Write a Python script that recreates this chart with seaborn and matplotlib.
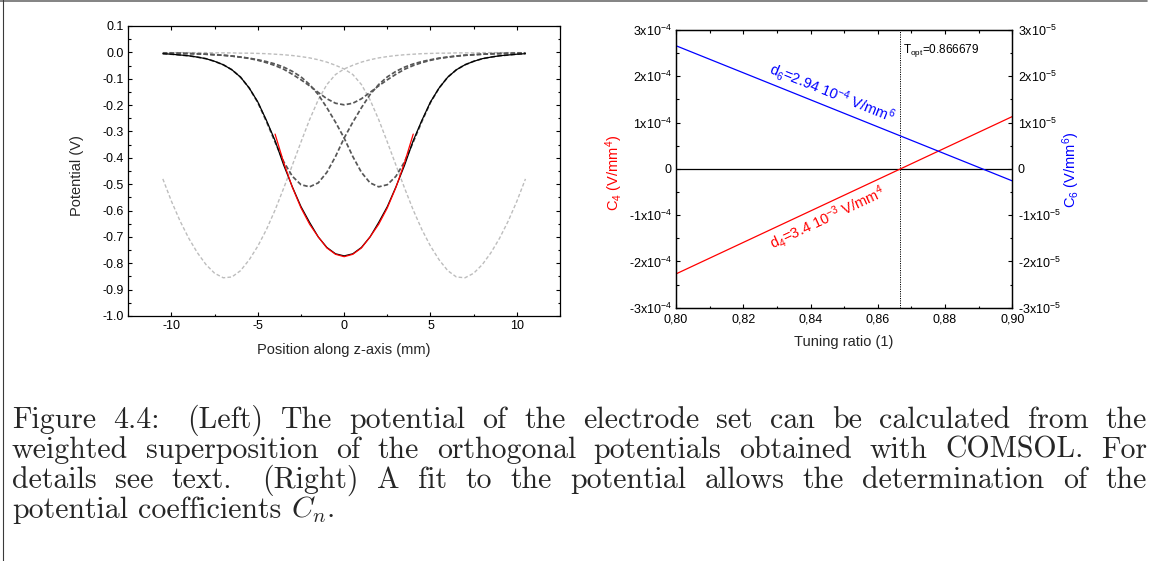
import numpy as np
import pandas as pd
import matplotlib
matplotlib.use("Agg")
import matplotlib.pyplot as plt
import seaborn as sns
from matplotlib.ticker import MultipleLocator, FuncFormatter
from matplotlib.lines import Line2D

# ---------------- data ----------------
Z = [-10.5, -10.0, -9.5, -9.0, -8.5, -8.0, -7.5, -7.0, -6.5, -6.0, -5.5,
     -5.0, -4.5, -4.0, -3.5, -3.0, -2.5, -2.0, -1.5, -1.0, -0.5, 0.0,
     0.5, 1.0, 1.5, 2.0, 2.5, 3.0, 3.5, 4.0, 4.5, 5.0, 5.5, 6.0, 6.5,
     7.0, 7.5, 8.0, 8.5, 9.0, 9.5, 10.0, 10.5]

# total potential (black)
V_total = [-0.005, -0.007, -0.010, -0.013, -0.018, -0.024, -0.034, -0.047, -0.066, -0.094, -0.135,
           -0.188, -0.258, -0.335, -0.428, -0.510, -0.585, -0.645, -0.700, -0.740, -0.764, -0.772,
           -0.764, -0.740, -0.700, -0.645, -0.585, -0.510, -0.428, -0.335, -0.258, -0.188, -0.135,
           -0.094, -0.066, -0.047, -0.034, -0.024, -0.018, -0.013, -0.010, -0.007, -0.005]

# ring electrode potential (dark grey, centre)
V_ring = [-0.002, -0.003, -0.003, -0.004, -0.005, -0.007, -0.009, -0.011, -0.014, -0.018, -0.023,
          -0.030, -0.039, -0.050, -0.064, -0.083, -0.104, -0.127, -0.152, -0.176, -0.193, -0.199,
          -0.193, -0.176, -0.152, -0.127, -0.104, -0.083, -0.064, -0.050, -0.039, -0.030, -0.023,
          -0.018, -0.014, -0.011, -0.009, -0.007, -0.005, -0.004, -0.003, -0.003, -0.002]

# correction electrode potentials (dark grey, at -2 and +2 mm)
V_corr_left = [-0.005, -0.007, -0.010, -0.013, -0.018, -0.024, -0.034, -0.047, -0.066, -0.094, -0.135,
               -0.190, -0.262, -0.340, -0.415, -0.470, -0.502, -0.510, -0.495, -0.455, -0.395, -0.325,
               -0.265, -0.210, -0.160, -0.122, -0.093, -0.072, -0.056, -0.044, -0.035, -0.028, -0.022,
               -0.018, -0.014, -0.011, -0.009, -0.007, -0.006, -0.005, -0.004, -0.003, -0.003]
V_corr_right = [-0.003, -0.003, -0.004, -0.005, -0.006, -0.007, -0.009, -0.011, -0.014, -0.018, -0.022,
                -0.028, -0.035, -0.044, -0.056, -0.072, -0.093, -0.122, -0.160, -0.210, -0.265, -0.325,
                -0.395, -0.455, -0.495, -0.510, -0.502, -0.470, -0.415, -0.340, -0.262, -0.190, -0.135,
                -0.094, -0.066, -0.047, -0.034, -0.024, -0.018, -0.013, -0.010, -0.007, -0.005]

# end-cap potentials (light grey, at -7 and +7 mm)
V_end_left = [-0.480, -0.565, -0.640, -0.705, -0.760, -0.805, -0.838, -0.855, -0.852, -0.828, -0.787,
              -0.735, -0.672, -0.598, -0.515, -0.428, -0.340, -0.255, -0.180, -0.122, -0.084, -0.063,
              -0.049, -0.037, -0.028, -0.021, -0.016, -0.012, -0.009, -0.007, -0.005, -0.004, -0.003,
              -0.003, -0.002, -0.002, -0.002, -0.001, -0.001, -0.001, -0.001, -0.001, -0.001]
V_end_right = [-0.001, -0.001, -0.001, -0.001, -0.001, -0.001, -0.002, -0.002, -0.002, -0.003, -0.003,
               -0.004, -0.005, -0.007, -0.009, -0.012, -0.016, -0.021, -0.028, -0.037, -0.049, -0.063,
               -0.084, -0.122, -0.180, -0.255, -0.340, -0.428, -0.515, -0.598, -0.672, -0.735, -0.787,
               -0.828, -0.852, -0.855, -0.838, -0.805, -0.760, -0.705, -0.640, -0.565, -0.480]

# fit (red)
Z_fit = [-4.0, -3.5, -3.0, -2.5, -2.0, -1.5, -1.0, -0.5, 0.0, 0.5, 1.0, 1.5, 2.0, 2.5, 3.0, 3.5, 4.0]
V_fit = [-0.310, -0.418, -0.512, -0.590, -0.652, -0.700, -0.742, -0.766, -0.775,
         -0.766, -0.742, -0.700, -0.652, -0.590, -0.512, -0.418, -0.310]

# right panel
T_ratio = [0.80, 0.90]
C4 = [-2.27e-4, 1.13e-4]
C6 = [2.66e-5, -0.26e-5]
T_opt = 0.866679

left_xticks = [-10, -5, 0, 5, 10]
caption_lines = [
    "Figure 4.4: (Left) The potential of the electrode set can be calculated from the",
    "weighted superposition of the orthogonal potentials obtained with COMSOL. For",
    "details see text. (Right) A fit to the potential allows the determination of the",
    r"potential coefficients $\mathit{C}_{\mathit{n}}$.",
]

# ---------------- style ----------------
sns.set_style("ticks")
plt.rcParams['font.family'] = ['Liberation Sans', 'DejaVu Sans']
plt.rcParams['mathtext.fontset'] = 'cm'
plt.rcParams['mathtext.default'] = 'regular'
plt.rcParams['axes.unicode_minus'] = False

W, H = 1156, 561
fig = plt.figure(figsize=(W / 100, H / 100), dpi=100)
fig.patch.set_facecolor('white')

def frac_box(x0, y0, x1, y1):
    return [x0 / W, 1 - y1 / H, (x1 - x0) / W, (y1 - y0) / H]

TICK_FS = 9
LABEL_FS = 10.5

def style_ax(ax):
    for s in ax.spines.values():
        s.set_linewidth(0.9)
        s.set_color('black')
        s.set_visible(True)
    ax.tick_params(which='both', direction='in', top=True, right=True,
                   labelsize=TICK_FS, colors='black', width=0.8)
    ax.tick_params(which='major', length=3.2, pad=3)
    ax.tick_params(which='minor', length=1.8)

# ---------------- left panel ----------------
axL = fig.add_axes(frac_box(128.3, 26, 560, 316))
grey_l = '#bdbdbd'
grey_d = '#575757'
dash_l = (0, (2.6, 1.6))
dash_d = (0, (2.6, 1.3))
sns.lineplot(x=Z, y=V_end_left, ax=axL, color=grey_l, lw=1.0, ls=dash_l, estimator=None, sort=False)
sns.lineplot(x=Z, y=V_end_right, ax=axL, color=grey_l, lw=1.0, ls=dash_l, estimator=None, sort=False)
sns.lineplot(x=Z, y=V_ring, ax=axL, color=grey_d, lw=1.25, ls=dash_d, estimator=None, sort=False)
sns.lineplot(x=Z, y=V_corr_left, ax=axL, color=grey_d, lw=1.25, ls=dash_d, estimator=None, sort=False)
sns.lineplot(x=Z, y=V_corr_right, ax=axL, color=grey_d, lw=1.25, ls=dash_d, estimator=None, sort=False)
sns.lineplot(x=Z, y=V_total, ax=axL, color='black', lw=0.9, estimator=None, sort=False)
sns.lineplot(x=Z_fit, y=V_fit, ax=axL, color='#ff0000', lw=0.9, estimator=None, sort=False)

axL.set_xlim(-12.5, 12.5)
axL.set_ylim(-1.0, 0.1)
axL.set_xticks(left_xticks)
axL.xaxis.set_minor_locator(MultipleLocator(2.5))
axL.yaxis.set_major_locator(MultipleLocator(0.1))
axL.yaxis.set_minor_locator(MultipleLocator(0.05))
axL.yaxis.set_major_formatter(FuncFormatter(lambda v, p: f"{v:.1f}".replace("-0.0", "0.0")))
axL.xaxis.set_major_formatter(FuncFormatter(lambda v, p: f"{v:.0f}"))
style_ax(axL)
axL.set_xlabel("Position along z-axis (mm)", fontsize=LABEL_FS)
axL.set_ylabel("Potential (V)", fontsize=LABEL_FS)
axL.xaxis.set_label_coords(0.5, -0.117)
axL.xaxis.label.set_va('center')
axL.yaxis.set_label_coords(-0.118, 0.4845)
axL.yaxis.label.set_va('center')

# ---------------- right panel ----------------
axR = fig.add_axes(frac_box(676, 30, 1012.3, 307.7))
axR2 = axR.twinx()
axR.axhline(0, color='black', lw=0.9, zorder=1)
axR.axvline(T_opt, color='black', lw=0.7, ls=(0, (1.2, 1.2)), zorder=1)
sns.lineplot(x=T_ratio, y=C4, ax=axR, color='#ff0000', lw=0.9, estimator=None, sort=False)
sns.lineplot(x=T_ratio, y=C6, ax=axR2, color='#0000ff', lw=0.9, estimator=None, sort=False)

axR.set_xlim(0.80, 0.90)
axR.set_ylim(-3e-4, 3e-4)
axR2.set_ylim(-3e-5, 3e-5)
axR.xaxis.set_major_locator(MultipleLocator(0.02))
axR.xaxis.set_minor_locator(MultipleLocator(0.01))
axR.yaxis.set_major_locator(MultipleLocator(1e-4))
axR.yaxis.set_minor_locator(MultipleLocator(0.5e-4))
axR2.yaxis.set_major_locator(MultipleLocator(1e-5))
axR2.yaxis.set_minor_locator(MultipleLocator(0.5e-5))
axR.xaxis.set_major_formatter(FuncFormatter(lambda v, p: f"{v:.2f}".replace(".", ",")))

def sci_fmt(exp):
    def f(v, p):
        k = int(round(v / 10.0 ** exp))
        if k == 0:
            return "0"
        return f"{k}x10$^{{{exp}}}$"
    return f

axR.yaxis.set_major_formatter(FuncFormatter(sci_fmt(-4)))
axR2.yaxis.set_major_formatter(FuncFormatter(sci_fmt(-5)))
style_ax(axR)
axR.tick_params(which='both', right=False)
axR.tick_params(axis='x', which='major', pad=4)
style_ax(axR2)
axR2.tick_params(which='both', left=False, top=False, labelleft=False)
axR2.tick_params(which='major', pad=4)
axR.set_xlabel("Tuning ratio (1)", fontsize=LABEL_FS)
axR.xaxis.set_label_coords(0.5, -0.122)
axR.xaxis.label.set_va('center')
axR.set_ylabel("C$_4$ (V/mm$^4$)", fontsize=LABEL_FS, color='#ff0000')
axR.yaxis.set_label_coords(-0.185, 0.484)
axR.yaxis.label.set_va('center')
axR2.set_ylabel("C$_6$ (V/mm$^6$)", fontsize=LABEL_FS, color='#0000ff', rotation=90)
axR2.yaxis.set_label_coords(1.174, 0.496)
axR2.yaxis.label.set_va('center')

# annotations along the lines
def line_angle(ax, xs, ys):
    p = ax.transData.transform(np.column_stack([xs, ys]))
    return np.degrees(np.arctan2(p[1, 1] - p[0, 1], p[1, 0] - p[0, 0]))

ang6 = line_angle(axR2, T_ratio, C6)
ang4 = line_angle(axR, T_ratio, C4)
fig.text(831.7 / W, 1 - 93.3 / H, "d$_6$=2.94 10$^{-4}$ V/mm$^6$", color='#0000ff',
         fontsize=10.5, rotation=ang6, rotation_mode='anchor', ha='center', va='center')
fig.text(827.3 / W, 1 - 218.3 / H, "d$_4$=3.4 10$^{-3}$ V/mm$^4$", color='#ff0000',
         fontsize=10.5, rotation=ang4, rotation_mode='anchor', ha='center', va='center')
fig.text(903.3 / W, 1 - 52.5 / H, "T$_{opt}$=0.866679", color='black', fontsize=8.5,
         ha='left', va='baseline')

# ---------------- frame lines ----------------
fig.add_artist(Line2D([0, 1147 / W], [1 - 1.0 / H, 1 - 1.0 / H], transform=fig.transFigure,
                      color='#6e6e6e', lw=1.2))
fig.add_artist(Line2D([3.0 / W, 3.0 / W], [0, 1], transform=fig.transFigure,
                      color='#3a3a3a', lw=0.8))

# ---------------- caption (justified) ----------------
renderer = fig.canvas.get_renderer()
CAP_FS = 21.5
cap_family = ['cmr10', 'DejaVu Serif']
x_left, x_right = 12.0, 1147.0
baselines = [428, 458, 488, 518]
for i, line in enumerate(caption_lines):
    words = line.split()
    arts = [fig.text(0, 0, w, fontsize=CAP_FS, family=cap_family, ha='left', va='baseline')
            for w in words]
    widths = [a.get_window_extent(renderer).width for a in arts]
    # LaTeX-like space factor: larger space after sentence-ending punctuation
    weights = []
    for w in words[:-1]:
        if len(w) > 1 and w[-1] in '.:' and (w[-2].islower() or w[-2].isdigit()):
            weights.append(1.6)
        else:
            weights.append(1.0)
    if i < len(caption_lines) - 1:
        unit = (x_right - x_left - sum(widths)) / sum(weights)
    else:
        unit = CAP_FS * 1.389 * 0.333
    x = x_left
    for j, (a, w) in enumerate(zip(arts, widths)):
        a.set_position((x / W, 1 - baselines[i] / H))
        if j < len(weights):
            x += w + unit * weights[j]

fig.savefig("out.png", dpi=100, facecolor='white')
